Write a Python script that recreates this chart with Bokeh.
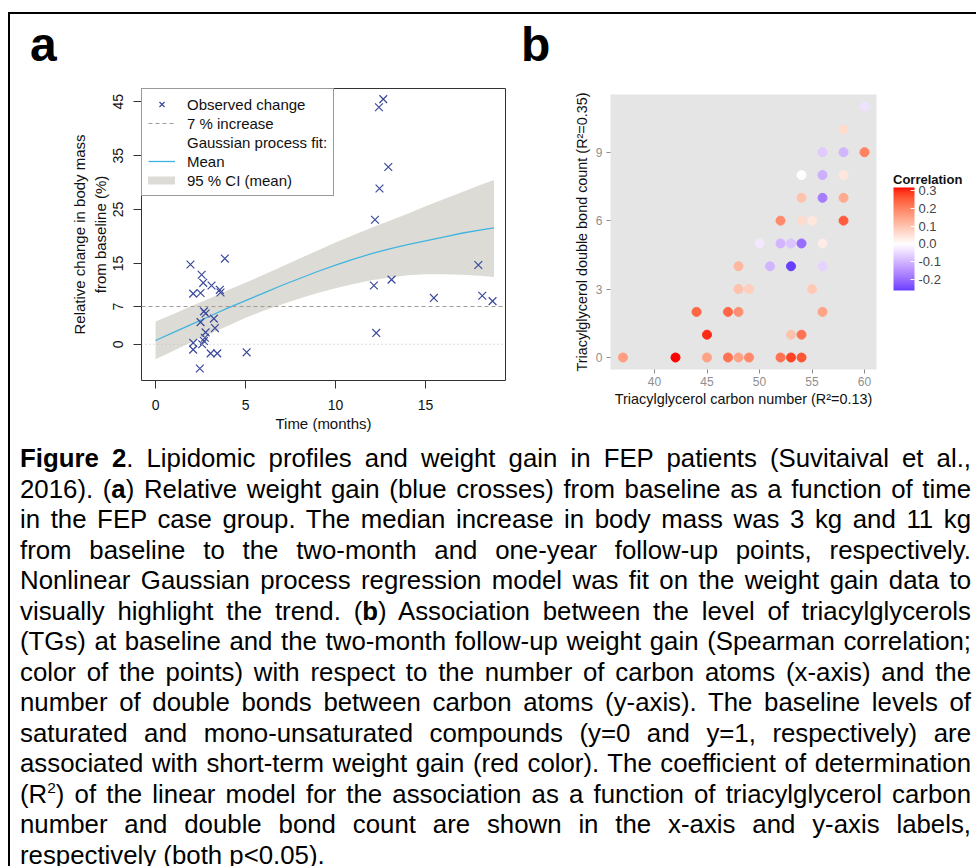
import numpy as np
from bokeh.plotting import figure
from bokeh.models import (ColumnDataSource, Legend, LegendItem, Span, ColorBar,
                          LinearColorMapper, FixedTicker, PrintfTickFormatter, Div,
                          Range1d, Spacer, GlobalInlineStyleSheet)
from bokeh.layouts import column, row
from bokeh.embed import file_html
from bokeh.resources import INLINE

FONT = "Liberation Sans"

# ---------------- Panel a data ----------------
OBS_TIME = [1.94, 3.85, 2.56, 2.65, 3.11, 3.57, 3.61, 2.09, 2.50, 2.69, 2.78, 2.50,
            3.24, 3.30, 2.78, 2.74, 2.69, 2.09, 2.59, 2.09, 3.06, 3.43, 5.06, 2.46,
            12.13, 12.26, 12.19, 12.44, 12.93, 12.41, 12.65, 13.11, 15.46, 17.93,
            18.15, 18.72]
OBS_CHANGE = [14.8, 15.9, 12.9, 11.4, 10.9, 10.1, 9.6, 9.4, 9.5, 6.1, 5.7, 4.1,
              4.75, 3.0, 2.2, 1.2, 0.6, 0.25, 0.0, -1.0, -1.7, -1.7, -1.5, -4.5,
              10.9, 2.1, 23.1, 28.9, 32.9, 44.0, 45.5, 12.0, 8.6, 14.7,
              9.0, 8.0]
GP_TIME = [0, 1, 2, 3, 4, 5, 6, 7, 8, 9, 10, 11, 12, 13, 14, 15, 16, 17, 18, 18.8]
GP_MEAN = [0.7, 2.2, 3.7, 5.2, 6.7, 8.1, 9.5, 10.9, 12.2, 13.5, 14.7, 15.8, 16.8,
           17.7, 18.5, 19.2, 19.9, 20.6, 21.2, 21.6]
GP_UPPER = [4.2, 5.6, 7.1, 8.5, 10.0, 11.4, 12.9, 14.4, 15.9, 17.4, 18.9, 20.3, 21.6,
            22.9, 24.2, 25.6, 26.9, 28.2, 29.5, 30.5]
GP_LOWER = [-2.8, -1.2, 0.4, 1.9, 3.4, 4.9, 6.2, 7.4, 8.5, 9.5, 10.4, 11.2, 11.9,
            12.4, 12.8, 13.0, 13.0, 12.9, 12.7, 12.5]
THRESHOLD = 7
BASELINE = 0
A_XTICKS = [0, 5, 10, 15]
A_YTICKS = [0, 7, 15, 25, 35, 45]

# ---------------- Panel b data ----------------
TG_CARBON = [37, 42, 45, 47, 48, 49, 52, 53, 54,
             45, 53, 54,
             44, 47, 48, 56,
             48, 49, 55,
             48, 51, 53, 56,
             50, 52, 53, 54, 56,
             52, 54, 55, 58,
             54, 56, 58,
             54, 56, 58,
             56, 58, 60,
             58, 60]
TG_DOUBLE = [0, 0, 0, 0, 0, 0, 0, 0, 0,
             1, 1, 1,
             2, 2, 2, 2,
             3, 3, 3,
             4, 4, 4, 4,
             5, 5, 5, 5, 5,
             6, 6, 6, 6,
             7, 7, 7,
             8, 8, 8,
             9, 9, 9,
             10, 11]
TG_CORR = [0.16, 0.317, 0.15, 0.22, 0.15, 0.19, 0.22, 0.28, 0.26,
           0.30, 0.10, 0.22,
           0.24, 0.24, 0.18, 0.15,
           0.10, 0.08, 0.09,
           0.12, -0.10, -0.262, -0.06,
           -0.03, -0.10, -0.08, -0.20, 0.03,
           0.19, 0.06, 0.04, 0.25,
           0.10, -0.18, 0.14,
           0.0, -0.11, 0.04,
           -0.07, -0.10, 0.20,
           0.06, -0.04]
B_XTICKS = [40, 45, 50, 55, 60]
B_YTICKS = [0, 3, 6, 9]
CB_TICKS = [-0.2, -0.1, 0.0, 0.1, 0.2, 0.3]

CAPTION_LINES = [
    "<b>Figure 2</b>. Lipidomic profiles and weight gain in FEP patients (Suvitaival et al.,",
    "2016). (<b>a</b>) Relative weight gain (blue crosses) from baseline as a function of time",
    "in the FEP case group. The median increase in body mass was 3 kg and 11 kg",
    "from baseline to the two-month and one-year follow-up points, respectively.",
    "Nonlinear Gaussian process regression model was fit on the weight gain data to",
    "visually highlight the trend. (<b>b</b>) Association between the level of triacylglycerols",
    "(TGs) at baseline and the two-month follow-up weight gain (Spearman correlation;",
    "color of the points) with respect to the number of carbon atoms (x-axis) and the",
    "number of double bonds between carbon atoms (y-axis). The baseline levels of",
    "saturated and mono-unsaturated compounds (y=0 and y=1, respectively) are",
    "associated with short-term weight gain (red color). The coefficient of determination",
    "(R<sup>2</sup>) of the linear model for the association as a function of triacylglycerol carbon",
    "number and double bond count are shown in the x-axis and y-axis labels,",
    "respectively (both p&lt;0.05).",
]

# ---------------- colours (ggplot-like Lab gradient) ----------------
def hex_to_lab(h):
    rgb = [int(h[i:i + 2], 16) / 255 for i in (1, 3, 5)]
    lin = [c / 12.92 if c <= 0.04045 else ((c + 0.055) / 1.055) ** 2.4 for c in rgb]
    r, g, b = lin
    X = (0.4124 * r + 0.3576 * g + 0.1805 * b) / 0.95047
    Y = (0.2126 * r + 0.7152 * g + 0.0722 * b)
    Z = (0.0193 * r + 0.1192 * g + 0.9505 * b) / 1.08883
    f = lambda t: t ** (1 / 3) if t > 0.008856 else 7.787 * t + 16 / 116
    fx, fy, fz = f(X), f(Y), f(Z)
    return (116 * fy - 16, 500 * (fx - fy), 200 * (fy - fz))


def lab_to_hex(L, a, b):
    fy = (L + 16) / 116
    fx = fy + a / 500
    fz = fy - b / 200
    finv = lambda t: t ** 3 if t ** 3 > 0.008856 else (t - 16 / 116) / 7.787
    X, Y, Z = 0.95047 * finv(fx), finv(fy), 1.08883 * finv(fz)
    r = 3.2406 * X - 1.5372 * Y - 0.4986 * Z
    g = -0.9689 * X + 1.8758 * Y + 0.0415 * Z
    bb = 0.0557 * X - 0.2040 * Y + 1.0570 * Z

    def gam(c):
        c = c * 12.92 if c <= 0.0031308 else 1.055 * c ** (1 / 2.4) - 0.055
        return min(max(c, 0.0), 1.0)
    return "#%02x%02x%02x" % tuple(int(round(gam(c) * 255)) for c in (r, g, bb))


LOW_C, MID_C, HIGH_C = hex_to_lab("#0000ff"), hex_to_lab("#ffffff"), hex_to_lab("#ff0000")
lo, hi = min(TG_CORR), max(TG_CORR)
span = 2 * max(abs(lo), abs(hi))
palette = []
for v in np.linspace(lo, hi, 256):
    t = 0.5 + v / span
    if t < 0.5:
        s, end = (0.5 - t) / 0.5, LOW_C
    else:
        s, end = (t - 0.5) / 0.5, HIGH_C
    lab = [MID_C[i] + s * (end[i] - MID_C[i]) for i in range(3)]
    palette.append(lab_to_hex(*lab))
mapper = LinearColorMapper(palette=palette, low=lo, high=hi)

# ---------------- Panel a ----------------
BLUE = "#3b4a9c"
LBLUE = "#3fb4e0"
BAND = "#dddbd5"
DASH = "#a39b93"
NAN = float("nan")

fa = figure(frame_width=364, frame_height=292,
            x_range=Range1d(-0.78, 19.44), y_range=Range1d(-6.73, 47.47),
            min_border_left=131, min_border_right=10, min_border_top=14,
            min_border_bottom=60, output_backend="svg", toolbar_location=None,
            background_fill_color="white", border_fill_color="white",
            outline_line_color="#333333", outline_line_width=1)
fa.grid.visible = False

r_band = fa.varea(x=GP_TIME, y1=GP_LOWER, y2=GP_UPPER, fill_color=BAND, fill_alpha=1)
fa.add_layout(Span(location=BASELINE, dimension="width", line_color="#bdbdbd",
                   line_dash="1 3", line_width=1))
fa.add_layout(Span(location=THRESHOLD, dimension="width", line_color=DASH,
                   line_dash="4 3", line_width=1))
r_mean = fa.line(GP_TIME, GP_MEAN, line_color=LBLUE, line_width=1.3)
src_obs = ColumnDataSource(dict(t=OBS_TIME, chg=OBS_CHANGE))
r_obs = fa.scatter("t", "chg", source=src_obs, marker="x", size=11,
                   line_color=BLUE, line_width=1.2)

# legend-only proxies (no visible data)
leg_thr = fa.line(x=[NAN], y=[NAN], line_color=DASH, line_dash="4 3", line_width=1)
leg_hdr = fa.line(x=[NAN], y=[NAN], line_alpha=0)
leg_ci = fa.line(x=[NAN], y=[NAN], line_color=BAND, line_width=8, line_cap="round")

legend = Legend(items=[
    LegendItem(label="Observed change", renderers=[r_obs]),
    LegendItem(label="7 % increase", renderers=[leg_thr]),
    LegendItem(label="Gaussian process fit:", renderers=[leg_hdr]),
    LegendItem(label="Mean", renderers=[r_mean]),
    LegendItem(label="95 % CI (mean)", renderers=[leg_ci]),
], location="top_left", margin=0, padding=6, spacing=1,
    border_line_color="#333333", border_line_width=1, background_fill_alpha=1,
    label_text_font=FONT, label_text_font_size="15px", label_text_color="#111111",
    glyph_width=27, glyph_height=18, label_height=18, label_standoff=12)
fa.add_layout(legend)

for ax in (fa.xaxis[0], fa.yaxis[0]):
    ax.axis_line_color = None
    ax.major_tick_line_color = "#333333"
    ax.major_tick_out = 8
    ax.major_tick_in = 0
    ax.minor_tick_line_color = None
    ax.major_label_text_font = FONT
    ax.major_label_text_font_size = "14px"
    ax.major_label_text_color = "#111111"
    ax.axis_label_text_font = FONT
    ax.axis_label_text_font_size = "15px"
    ax.axis_label_text_font_style = "normal"
    ax.axis_label_text_color = "#111111"

fa.xaxis.ticker = FixedTicker(ticks=A_XTICKS)
fa.yaxis.ticker = FixedTicker(ticks=A_YTICKS)
fa.xaxis.axis_label = "Time (months)"
fa.yaxis.axis_label = "Relative change in body mass\nfrom baseline (%)"
fa.yaxis.major_label_orientation = "vertical"
fa.xaxis.major_label_standoff = 11
fa.xaxis.axis_label_standoff = 2
fa.yaxis.major_label_standoff = 10
fa.yaxis.axis_label_standoff = 2

# ---------------- Panel b ----------------
fb = figure(frame_width=266, frame_height=275,
            x_range=Range1d(35.81, 61.14), y_range=Range1d(-0.526, 11.53),
            min_border_left=95, min_border_right=100, min_border_top=20,
            min_border_bottom=71, output_backend="svg", toolbar_location=None,
            background_fill_color="#e5e5e5", border_fill_color="white",
            outline_line_color=None)
fb.grid.visible = False
src_tg = ColumnDataSource(dict(c=TG_CARBON, db=TG_DOUBLE, corr=TG_CORR))
fb.scatter("c", "db", source=src_tg, size=9,
           fill_color={"field": "corr", "transform": mapper},
           line_color={"field": "corr", "transform": mapper})

for ax in (fb.xaxis[0], fb.yaxis[0]):
    ax.axis_line_color = None
    ax.major_tick_line_color = "#8a8a8a"
    ax.major_tick_out = 4
    ax.major_tick_in = 0
    ax.minor_tick_line_color = None
    ax.major_label_text_font = FONT
    ax.major_label_text_font_size = "12px"
    ax.major_label_text_color = "#8f8f8f"
    ax.axis_label_text_font = FONT
    ax.axis_label_text_font_size = "14.4px"
    ax.axis_label_text_font_style = "normal"
    ax.axis_label_text_color = "#111111"
fb.xaxis.ticker = FixedTicker(ticks=B_XTICKS)
fb.yaxis.ticker = FixedTicker(ticks=B_YTICKS)
fb.xaxis.axis_label = "Triacylglycerol carbon number (R\u00b2=0.13)"
fb.yaxis.axis_label = "Triacylglycerol double bond count (R\u00b2=0.35)"
fb.xaxis.major_label_standoff = 3
fb.xaxis.axis_label_standoff = 2
fb.yaxis.major_label_standoff = 4
fb.yaxis.axis_label_standoff = 3

cb = ColorBar(color_mapper=mapper, ticker=FixedTicker(ticks=CB_TICKS),
              formatter=PrintfTickFormatter(format="%.1f"),
              width=21, height=103, location=(283, 79), padding=0, margin=0,
              major_label_text_font=FONT,
              major_label_text_font_size="13px", label_standoff=4,
              major_tick_line_color="white", major_tick_in=4, major_tick_out=0,
              bar_line_color=None, border_line_color=None,
              background_fill_color=None)
fb.add_layout(cb)

# horizontal colour-bar heading, drawn as the title of an (otherwise empty) legend
# placed in the right-hand side panel (centre annotations are clipped to the frame)
cb_hdr = fb.line(x=[NAN], y=[NAN], line_alpha=0)
cb_title = Legend(items=[LegendItem(label=" ", renderers=[cb_hdr])],
                  title="Correlation", title_text_font=FONT,
                  title_text_font_style="bold", title_text_font_size="13px",
                  title_text_color="#111111", title_standoff=0,
                  location=(17, 181), margin=0, padding=0, spacing=0,
                  background_fill_alpha=0, border_line_color=None,
                  glyph_width=1, glyph_height=1, label_height=1,
                  label_text_font_size="1px", label_standoff=0)
fb.add_layout(cb_title, "right")

# ---------------- panel letters ----------------
LETTER = ("<div style=\"font-family:'Liberation Sans',Arial,sans-serif;font-weight:bold;"
          "font-size:48px;line-height:48px;color:#000;padding-left:%dpx;padding-top:7px;\">%s</div>")
div_a = Div(text=LETTER % (20, "a"), width=505, height=60, margin=0)
div_b = Div(text=LETTER % (6, "b"), width=461, height=60, margin=0)

# ---------------- Caption ----------------
parts = []
for i, ln in enumerate(CAPTION_LINES):
    last = i == len(CAPTION_LINES) - 1
    align = "left" if last else "justify"
    parts.append('<div style="white-space:nowrap;text-align:%s;text-align-last:%s;">%s</div>'
                 % (align, align, ln))
caption_html = ('<div style="font-family:\'Liberation Sans\',Arial,sans-serif;'
                'font-size:25.8px;line-height:30.5px;color:#000;box-sizing:border-box;'
                'width:961px;padding-left:10px;padding-top:3px;">' + "".join(parts) + "</div>")
caption_html = caption_html.replace("<sup>", '<sup style="font-size:0.6em;line-height:0;">')
caption = Div(text=caption_html, width=966, height=440, margin=0)

body = column(row(column(div_a, fa), column(div_b, fb)), caption,
              styles={"border-top": "2px solid #000", "border-left": "2px solid #000"})
root = column(Spacer(width=10, height=12), row(Spacer(width=8, height=10), body),
              stylesheets=[GlobalInlineStyleSheet(css="html, body { overflow: hidden; }")])

open("out.html", "w").write(file_html(root, INLINE))
